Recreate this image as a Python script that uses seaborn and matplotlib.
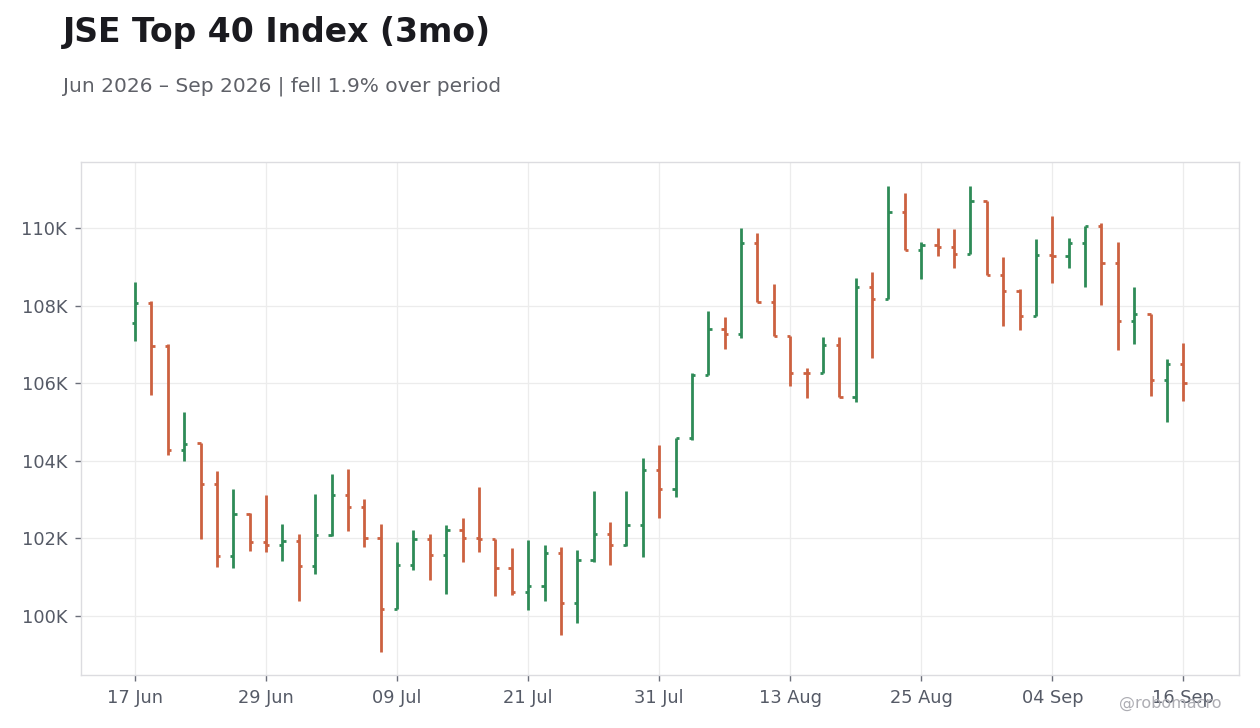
import pandas as pd
import matplotlib.pyplot as plt
import matplotlib.ticker as mticker
import seaborn as sns

# JSE Top 40 daily OHLC, in thousands
opens = [107.56, 108.07, 106.97, 104.28, 104.45, 103.40, 101.55, 102.64, 101.91, 101.83,
         101.94, 101.30, 102.09, 103.13, 102.81, 102.02, 100.18, 101.31, 101.99, 101.57,
         102.22, 102.02, 101.99, 101.24, 100.62, 100.78, 101.63, 100.34, 101.45, 102.12,
         101.83, 102.35, 103.77, 103.28, 104.59, 106.22, 107.40, 107.28, 109.62, 108.10,
         107.22, 106.27, 106.25, 106.99, 105.65, 108.49, 108.18, 110.42, 109.42, 109.57,
         109.51, 109.34, 110.70, 108.79, 108.38, 107.74, 109.31, 109.29, 109.62, 110.06,
         109.11, 107.59, 107.79, 106.09, 106.50]
highs = [108.60, 108.11, 107.00, 105.26, 104.47, 103.74, 103.27, 102.65, 103.12, 102.37,
         102.11, 103.14, 103.66, 103.79, 103.02, 102.37, 101.91, 102.22, 102.11, 102.35,
         102.53, 103.32, 101.99, 101.75, 101.96, 101.83, 101.78, 101.70, 103.22, 102.42,
         103.22, 104.07, 104.41, 104.59, 106.26, 107.86, 107.71, 110.00, 109.87, 108.56,
         107.22, 106.38, 107.19, 107.19, 108.71, 108.87, 111.08, 110.90, 109.64, 110.00,
         109.97, 111.08, 110.70, 109.25, 108.43, 109.72, 110.31, 109.74, 110.06, 110.13,
         109.64, 108.48, 107.79, 106.62, 107.04]
lows = [107.10, 105.70, 104.16, 104.00, 101.98, 101.27, 101.24, 101.68, 101.66, 101.43,
        100.39, 101.09, 102.06, 102.20, 101.79, 99.08, 100.18, 101.19, 100.93, 100.57,
        101.39, 101.65, 100.52, 100.55, 100.16, 100.39, 99.52, 99.83, 101.40, 101.32,
        101.80, 101.53, 102.53, 103.06, 104.53, 106.21, 106.89, 107.17, 108.10, 107.22,
        105.94, 105.63, 106.25, 105.64, 105.51, 106.66, 108.18, 109.42, 108.69, 109.29,
        108.98, 109.34, 108.79, 107.48, 107.38, 107.74, 108.59, 108.98, 108.49, 108.02,
        106.86, 107.02, 105.68, 105.01, 105.55]
closes = [108.07, 106.96, 104.28, 104.44, 103.40, 101.55, 102.63, 101.91, 101.83, 101.93,
          101.30, 102.09, 103.13, 102.81, 102.02, 100.18, 101.31, 101.99, 101.57, 102.22,
          102.02, 101.99, 101.24, 100.62, 100.78, 101.63, 100.34, 101.45, 102.12, 101.83,
          102.35, 103.76, 103.28, 104.59, 106.22, 107.40, 107.28, 109.62, 108.10, 107.22,
          106.27, 106.25, 106.99, 105.65, 108.49, 108.18, 110.42, 109.42, 109.57, 109.51,
          109.34, 110.70, 108.79, 108.38, 107.74, 109.31, 109.29, 109.62, 110.06, 109.11,
          107.59, 107.79, 106.09, 106.50, 106.01]

# trading days (Women's Day holiday observed on 10 Aug)
dates = pd.bdate_range('2026-06-17', '2026-09-16', freq='C', holidays=['2026-08-10'])

df = pd.DataFrame({'date': dates, 'open': opens, 'high': highs,
                   'low': lows, 'close': closes})
df['x'] = range(len(df))
for c in ['open', 'high', 'low', 'close']:
    df[c] = df[c] * 1000

UP = '#2e8b57'
DOWN = '#cc6140'
df['color'] = [UP if c >= o else DOWN for o, c in zip(df['open'], df['close'])]

sns.set_theme(style='white')
plt.rcParams['font.family'] = ['DejaVu Sans']

fig = plt.figure(figsize=(12.6, 7.28), dpi=100)
ax = fig.add_axes([81 / 1260, 1 - 675 / 728, (1239 - 81) / 1260, (675 - 162) / 728])

tick_w = 0.2
ax.vlines(df['x'], df['low'], df['high'], colors=df['color'], linewidth=2, zorder=3)
ax.hlines(df['open'], df['x'] - tick_w, df['x'], colors=df['color'], linewidth=2, zorder=3)
ax.hlines(df['close'], df['x'], df['x'] + tick_w, colors=df['color'], linewidth=2, zorder=3)

ax.set_xlim(-3.3, 67.4)
ax.set_ylim(98480, 111700)

xt = list(range(0, len(df), 8))
ax.set_xticks(xt)
ax.set_xticklabels([df['date'][i].strftime('%d %b') for i in xt])
ax.yaxis.set_major_locator(mticker.MultipleLocator(2000))
ax.yaxis.set_major_formatter(mticker.FuncFormatter(lambda v, p: f'{v / 1000:.0f}K'))

ax.grid(True, color='#ececec', linewidth=0.9)
ax.set_axisbelow(True)
for s in ax.spines.values():
    s.set_color('#dcdce0')
    s.set_linewidth(1)
ax.tick_params(axis='both', which='major', length=4, width=1, color='#6b6f7a',
               labelcolor='#555a66', labelsize=12.8, direction='out', pad=6,
               bottom=True, left=True)

fig.text(63 / 1260, 1 - 42 / 728, 'JSE Top 40 Index (3mo)', fontsize=23.8,
         fontweight='bold', color='#1a1a1f', va='baseline', ha='left')
fig.text(63 / 1260, 1 - 92 / 728, 'Jun 2026 \u2013 Sep 2026 | fell 1.9% over period',
         fontsize=14.5, color='#5f6168', va='baseline', ha='left')
fig.text(1222 / 1260, 1 - 708 / 728, '@robomacro', fontsize=11.5, color='#adadb3',
         va='baseline', ha='right')

fig.savefig('out.png', dpi=100, facecolor='white')
